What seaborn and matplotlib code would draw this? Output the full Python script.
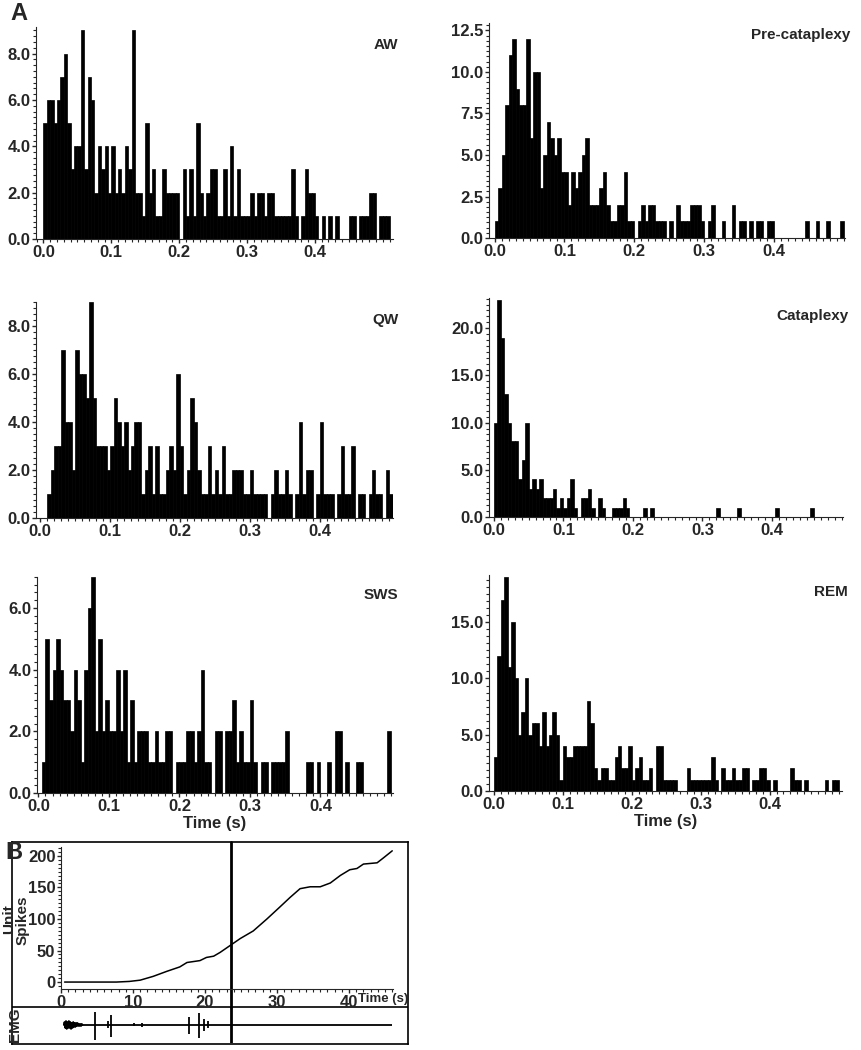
import numpy as np
import pandas as pd
import matplotlib
matplotlib.use("Agg")
import matplotlib.pyplot as plt
from matplotlib.ticker import MultipleLocator, FormatStrFormatter
import seaborn as sns

# interspike interval histograms, 5 ms bins starting at 0
bin_w = 0.005

aw_counts = [5, 6, 6, 5, 6, 7, 8, 5, 3, 4, 4, 9, 3, 7, 6, 2, 4, 3, 4, 2,
             4, 2, 3, 2, 4, 3, 9, 2, 2, 1, 5, 2, 3, 1, 1, 3, 2, 2, 2, 2,
             0, 3, 1, 3, 1, 5, 2, 1, 2, 3, 3, 1, 1, 3, 1, 4, 1, 3, 1, 1,
             1, 2, 1, 2, 2, 1, 2, 2, 1, 1, 1, 1, 1, 3, 1, 0, 1, 3, 2, 2,
             1, 0, 1, 0, 1, 0, 1, 0, 0, 0, 1, 1, 0, 1, 1, 1, 2, 2, 0, 1,
             1, 1]
pre_counts = [1, 3, 5, 8, 11, 12, 9, 8, 8, 12, 6, 10, 10, 3, 5, 7, 6, 5, 6, 4,
              4, 2, 4, 3, 4, 5, 6, 2, 2, 2, 3, 4, 2, 1, 1, 2, 2, 4, 1, 1,
              0, 1, 2, 1, 2, 2, 1, 1, 1, 0, 1, 0, 2, 1, 1, 1, 2, 2, 2, 1,
              0, 1, 2, 0, 0, 1, 0, 0, 2, 0, 1, 1, 0, 1, 0, 1, 1, 0, 1, 1,
              0, 0, 0, 0, 0, 0, 0, 0, 0, 1, 0, 0, 1, 0, 0, 1, 0, 0, 0, 1]
qw_counts = [0, 0, 1, 2, 3, 3, 7, 4, 4, 2, 7, 6, 6, 5, 9, 5, 3, 3, 3, 2,
             3, 5, 4, 3, 4, 2, 3, 4, 4, 1, 2, 3, 1, 3, 1, 1, 2, 3, 2, 6,
             3, 1, 2, 5, 4, 2, 1, 1, 3, 1, 2, 1, 3, 1, 1, 2, 2, 2, 1, 1,
             2, 1, 1, 1, 1, 0, 1, 2, 1, 1, 2, 1, 0, 1, 4, 1, 2, 2, 0, 1,
             4, 1, 1, 1, 0, 1, 3, 1, 1, 3, 0, 1, 1, 0, 1, 2, 1, 1, 0, 2,
             1, 1]
cat_counts = [10, 23, 19, 13, 10, 8, 8, 4, 6, 10, 3, 4, 3, 4, 2, 2, 2, 3, 1, 2,
              1, 2, 4, 1, 0, 2, 2, 3, 1, 0, 2, 1, 0, 0, 1, 1, 1, 2, 1, 0,
              0, 0, 0, 1, 0, 1, 0, 0, 0, 0, 0, 0, 0, 0, 0, 0, 0, 0, 0, 0,
              0, 0, 0, 0, 1, 0, 0, 0, 0, 0, 1, 0, 0, 0, 0, 0, 0, 0, 0, 0,
              0, 1, 0, 0, 0, 0, 0, 0, 0, 0, 0, 1, 0, 0, 0, 0, 0, 0, 0]
sws_counts = [0, 1, 5, 3, 4, 5, 4, 3, 3, 2, 4, 3, 1, 4, 6, 7, 2, 5, 2, 3,
              2, 2, 4, 2, 4, 1, 3, 1, 2, 2, 2, 1, 1, 2, 1, 1, 2, 2, 0, 1,
              1, 1, 2, 2, 1, 2, 4, 1, 1, 0, 2, 2, 0, 2, 2, 3, 1, 2, 1, 1,
              3, 1, 0, 1, 1, 0, 1, 1, 1, 1, 2, 0, 0, 0, 0, 0, 1, 1, 0, 1,
              0, 0, 1, 0, 2, 2, 0, 1, 0, 0, 1, 1, 0, 0, 0, 0, 0, 0, 0, 2]
rem_counts = [3, 12, 17, 19, 11, 15, 10, 5, 7, 10, 5, 6, 6, 4, 7, 4, 5, 7, 5, 1,
              4, 3, 3, 4, 4, 4, 4, 8, 6, 2, 1, 2, 2, 1, 1, 3, 4, 2, 2, 4,
              1, 2, 3, 1, 1, 2, 0, 4, 4, 1, 1, 1, 1, 0, 0, 0, 2, 1, 1, 1,
              1, 1, 1, 3, 1, 0, 2, 1, 1, 2, 1, 1, 2, 2, 0, 1, 1, 2, 2, 1,
              0, 1, 0, 0, 0, 0, 2, 1, 1, 0, 1, 0, 0, 0, 0, 0, 1, 0, 1, 1]

# panel B: cumulative unit spikes vs time
spk_time = [0.5, 4.0, 7.7, 9.5, 11.0, 12.8, 14.7, 16.5, 17.5, 19.3, 20.2, 21.2,
            22.1, 23.5, 24.9, 26.7, 28.6, 30.4, 31.8, 33.2, 34.6, 36.0, 37.4,
            38.8, 40.1, 41.1, 42.0, 43.9, 44.8, 46.0]
spk_count = [0, 0, 0, 1, 3, 9, 17, 24, 31, 34, 39, 41, 47, 58, 69, 81, 100,
             119, 134, 148, 151, 151, 157, 169, 178, 180, 187, 189, 197, 208]
cataplexy_onset = 23.6

# EMG trace: early burst samples and later isolated deflections
emg_burst_t = [0.4, 0.5, 0.6, 0.7, 0.8, 0.9, 1.0, 1.1, 1.2, 1.3, 1.4, 1.5, 1.6,
               1.7, 1.8, 1.9, 2.0, 2.1, 2.2, 2.3, 2.4, 2.5, 2.6, 2.7, 2.8, 2.9, 3.0]
emg_burst_v = [0, 3, -3, 4, -4, 3, -3, 4, -3, 3, -4, 2, -3, 3, -2, 2, -2, 2,
               -1, 2, -1, 1, -1, 1, -1, 1, 0]
emg_spike_t = [4.7, 6.6, 7.0, 10.2, 11.3, 17.8, 19.2, 19.8, 20.4]
emg_spike_up = [13, 4, 10, 2, 2, 8, 12, 6, 4]
emg_spike_dn = [15, 3, 12, 1, 2, 9, 13, 6, 3]

sns.set_style("ticks")
plt.rcParams['font.family'] = ['Liberation Sans', 'DejaVu Sans']
plt.rcParams['font.weight'] = 'bold'
plt.rcParams['axes.labelweight'] = 'bold'

fig = plt.figure(figsize=(8.61, 10.5), dpi=100)

panels = [
    ("AW", aw_counts, [0.0418, 0.7724, 0.4146, 0.2019], 9.15, 2.0, -0.011, 0.515, 0.915),
    ("Pre-cataplexy", pre_counts, [0.568, 0.7733, 0.4135, 0.2048], 12.95, 2.5, -0.008, 0.502, 0.944),
    ("QW", qw_counts, [0.0418, 0.5067, 0.4146, 0.2057], 9.0, 2.0, -0.006, 0.505, 0.917),
    ("Cataplexy", cat_counts, [0.568, 0.5076, 0.411, 0.2086], 23.2, 5.0, -0.007, 0.502, 0.92),
    ("SWS", sws_counts, [0.043, 0.2448, 0.4135, 0.2057], 7.0, 2.0, -0.002, 0.503, 0.917),
    ("REM", rem_counts, [0.568, 0.2467, 0.41, 0.2057], 19.2, 5.0, -0.007, 0.505, 0.92),
]

for name, counts, pos, ytop, ystep, x0, x1, ty in panels:
    ax = fig.add_axes(pos)
    n = len(counts)
    df = pd.DataFrame({"isi": np.arange(n) * bin_w + bin_w / 2, "count": counts})
    sns.histplot(data=df, x="isi", weights="count", binwidth=bin_w,
                 binrange=(0, n * bin_w), ax=ax, color='black',
                 edgecolor='black', linewidth=0.5, alpha=1.0)
    ax.set_xlim(x0, x1)
    ax.set_ylim(0, ytop)
    ax.set_ylabel("")
    ax.set_xlabel("")
    sns.despine(ax=ax)
    ax.xaxis.set_major_locator(MultipleLocator(0.1))
    ax.xaxis.set_minor_locator(MultipleLocator(0.01))
    ax.yaxis.set_major_locator(MultipleLocator(ystep))
    ax.yaxis.set_minor_locator(MultipleLocator(ystep / 8))
    ax.yaxis.set_major_formatter(FormatStrFormatter('%.1f'))
    ax.tick_params(axis='both', which='major', labelsize=12, length=3, width=1, pad=1)
    ax.tick_params(axis='both', which='minor', length=2, width=0.8)
    ax.set_xticks([0.0, 0.1, 0.2, 0.3, 0.4])
    ax.xaxis.set_major_formatter(FormatStrFormatter('%.1f'))
    for lab in ax.get_xticklabels() + ax.get_yticklabels():
        lab.set_fontweight('bold')
    ax.text(1.015, ty, name, transform=ax.transAxes, ha='right', va='center',
            fontsize=11, fontweight='bold')
    if name in ("SWS", "REM"):
        ax.set_xlabel("Time (s)", fontsize=12, fontweight='bold', labelpad=2)

fig.text(0.012, 0.998, "A", fontsize=17, fontweight='bold', ha='left', va='top')
fig.text(0.006, 0.199, "B", fontsize=17, fontweight='bold', ha='left', va='top')

# panel B frame
box = fig.add_axes([0.0139, 0.0057, 0.46, 0.1924])
box.set_xticks([])
box.set_yticks([])
box.set_xlim(0, 1)
box.set_ylim(0, 1)
for s in box.spines.values():
    s.set_visible(True)
    s.set_linewidth(1.2)
    s.set_color('black')
box.axhline(0.183, color='black', linewidth=1.2)
box.patch.set_alpha(0)

axb = fig.add_axes([0.0708, 0.0581, 0.3856, 0.1352])
axb.patch.set_alpha(0)
sns.lineplot(x=spk_time, y=spk_count, ax=axb, color='black', linewidth=1.1)
axb.set_xlim(0, 46.1)
axb.set_ylim(-11, 214)
sns.despine(ax=axb)
axb.xaxis.set_major_locator(MultipleLocator(10))
axb.xaxis.set_minor_locator(MultipleLocator(1))
axb.yaxis.set_major_locator(MultipleLocator(50))
axb.yaxis.set_minor_locator(MultipleLocator(6.25))
axb.set_xticks([0, 10, 20, 30, 40])
axb.tick_params(axis='both', which='major', labelsize=12, length=3, width=1, pad=1)
axb.tick_params(axis='both', which='minor', length=2, width=0.8)
for lab in axb.get_xticklabels() + axb.get_yticklabels():
    lab.set_fontweight('bold')
axb.axvline(cataplexy_onset, ymin=-0.13, ymax=1.035, color='black',
            linewidth=2, clip_on=False)
axb.text(1.047, -0.03, "Time (s)", transform=axb.transAxes, ha='right', va='top',
         fontsize=9.5, fontweight='bold')
fig.text(0.0105, 0.125, "Unit", rotation=90, ha='center', va='center',
         fontsize=11, fontweight='bold')
fig.text(0.0265, 0.124, "Spikes", rotation=90, ha='center', va='center',
         fontsize=11, fontweight='bold')

axe = fig.add_axes([0.0708, 0.0067, 0.3856, 0.0343])
axe.patch.set_alpha(0)
axe.set_xlim(0, 46.1)
axe.set_ylim(-18, 18)
axe.axis('off')
axe.hlines(0, 0.4, 46.0, color='black', linewidth=1.3)
axe.plot(emg_burst_t, emg_burst_v, color='black', linewidth=1.3)
axe.vlines(emg_spike_t, [-d for d in emg_spike_dn], emg_spike_up,
           color='black', linewidth=1.3)
axe.axvline(cataplexy_onset, color='black', linewidth=2)
fig.text(0.0174, 0.0238, "EMG", rotation=90, ha='center', va='center',
         fontsize=11, fontweight='bold')

fig.savefig("out.png", dpi=100)
